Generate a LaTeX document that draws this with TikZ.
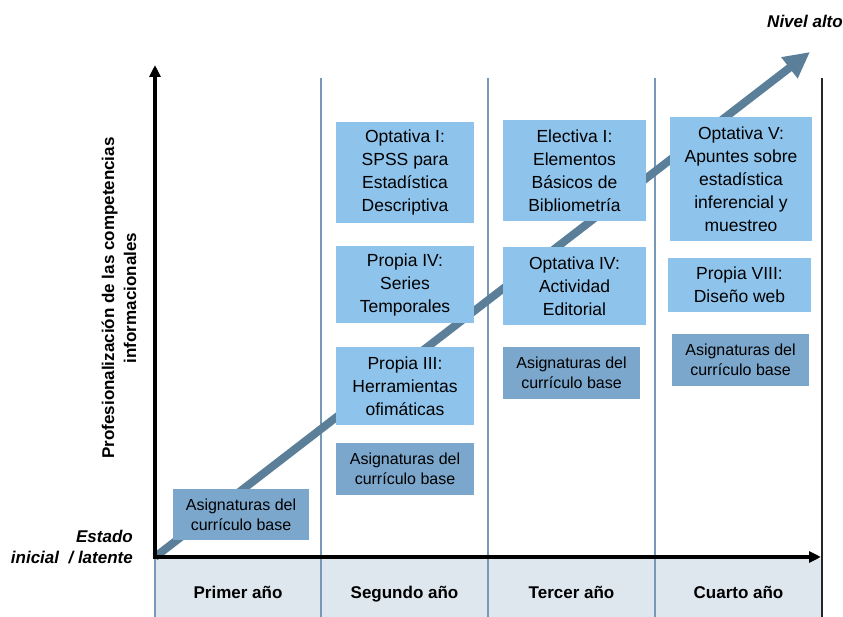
\documentclass[tikz,border=0pt]{standalone}
\usepackage{fontspec}
\setmainfont{Liberation Sans}
\usetikzlibrary{arrows.meta}
\definecolor{boxlight}{RGB}{142,195,235}
\definecolor{boxdark}{RGB}{123,167,204}
\definecolor{arrowc}{RGB}{91,127,153}
\definecolor{bandc}{RGB}{222,230,238}
\definecolor{divc}{RGB}{120,152,184}
\tikzset{
  subj/.style={fill=boxlight, inner sep=0pt, align=center, text=black,
    font=\fontsize{17.5}{23}\selectfont},
  base/.style={fill=boxdark, inner sep=0pt, align=center, text=black,
    font=\fontsize{16}{20}\selectfont},
  yearlab/.style={font=\bfseries\fontsize{17}{20}\selectfont, anchor=base},
  divline/.style={draw=divc, line width=1.2pt},
  axis/.style={draw=black, line width=3.5pt, -{Triangle[length=12pt,width=11pt]}},
  bigarrow/.style={draw=arrowc, line width=8pt, -{Triangle[length=26pt,width=25pt]}},
  edgelab/.style={font=\bfseries\itshape\fontsize{17}{21}\selectfont}
}
\begin{document}
\begin{tikzpicture}[x=1pt,y=-1pt]
\useasboundingbox (0,0) rectangle (843,617);
% bottom band
\fill[bandc] (155,559) rectangle (822,617);
% coordinates
\coordinate (o) at (155,557);
\coordinate (ytop) at (155,65);
\coordinate (xend) at (821,557);
\coordinate (hi) at (810,52);
\foreach \x/\n in {321/a,488/b,655/c}{
  \coordinate (d\n t) at (\x,78);
  \coordinate (d\n b) at (\x,617);
}
\coordinate (rt) at (822,78);
\coordinate (rb) at (822,617);
\coordinate (lb) at (155,617);
% dividers
\draw[divline] (dat) -- (dab);
\draw[divline] (dbt) -- (dbb);
\draw[divline] (dct) -- (dcb);
\draw[divline] (o) -- (lb);
\draw[draw=black!85, line width=1.3pt] (rt) -- (rb);
% big arrow
\draw[bigarrow] (o) -- (hi);
% boxes
\node[base, minimum width=136pt, minimum height=51pt] (a1) at (241,514.5) {Asignaturas del\\currículo base};
\node[subj, minimum width=138pt, minimum height=101pt] (o1) at (405,172.5) {Optativa I:\\SPSS para\\Estadística\\Descriptiva};
\node[subj, minimum width=138pt, minimum height=77pt] (p4) at (405,284.5) {Propia IV:\\Series\\Temporales};
\node[subj, minimum width=138pt, minimum height=78pt] (p3) at (405,386) {Propia III:\\Herramientas\\ofimáticas};
\node[base, minimum width=138pt, minimum height=52pt] (a2) at (405,469) {Asignaturas del\\currículo base};
\node[subj, minimum width=143pt, minimum height=101pt] (e1) at (574.5,170.5) {Electiva I:\\Elementos\\Básicos de\\Bibliometría};
\node[subj, minimum width=143pt, minimum height=78pt] (o4) at (574.5,286) {Optativa IV:\\Actividad\\Editorial};
\node[base, minimum width=137pt, minimum height=52pt] (a3) at (571.5,373) {Asignaturas del\\currículo base};
\node[subj, minimum width=142pt, minimum height=124pt] (o5) at (741,179) {Optativa V:\\Apuntes sobre\\estadística\\inferencial y\\muestreo};
\node[subj, minimum width=143pt, minimum height=54pt] (p8) at (739.5,285) {Propia VIII:\\Diseño web};
\node[base, minimum width=137pt, minimum height=52pt] (a4) at (740.5,360) {Asignaturas del\\currículo base};
% axes
\draw[axis] ([yshift=1.75pt]o) -- (ytop);
\draw[axis] ([xshift=-1.75pt]o) -- (xend);
% year labels
\node[yearlab] (y1) at (238,598) {Primer año};
\node[yearlab] (y2) at (404.5,598) {Segundo año};
\node[yearlab] (y3) at (571.5,598) {Tercer año};
\node[yearlab] (y4) at (738.5,598) {Cuarto año};
% axis label
\node[rotate=90, align=center, font=\bfseries\fontsize{17}{22}\selectfont] (ylab) at (119,298) {Profesionalización de las competencias\\informacionales};
% edge labels
\node[edgelab, anchor=south east, align=right, inner sep=0pt] (est) at (133,564) {Estado\\inicial~~/ latente};
\node[edgelab, anchor=base east, inner sep=0pt] (niv) at (843,28) {Nivel alto};
\end{tikzpicture}
\end{document}
